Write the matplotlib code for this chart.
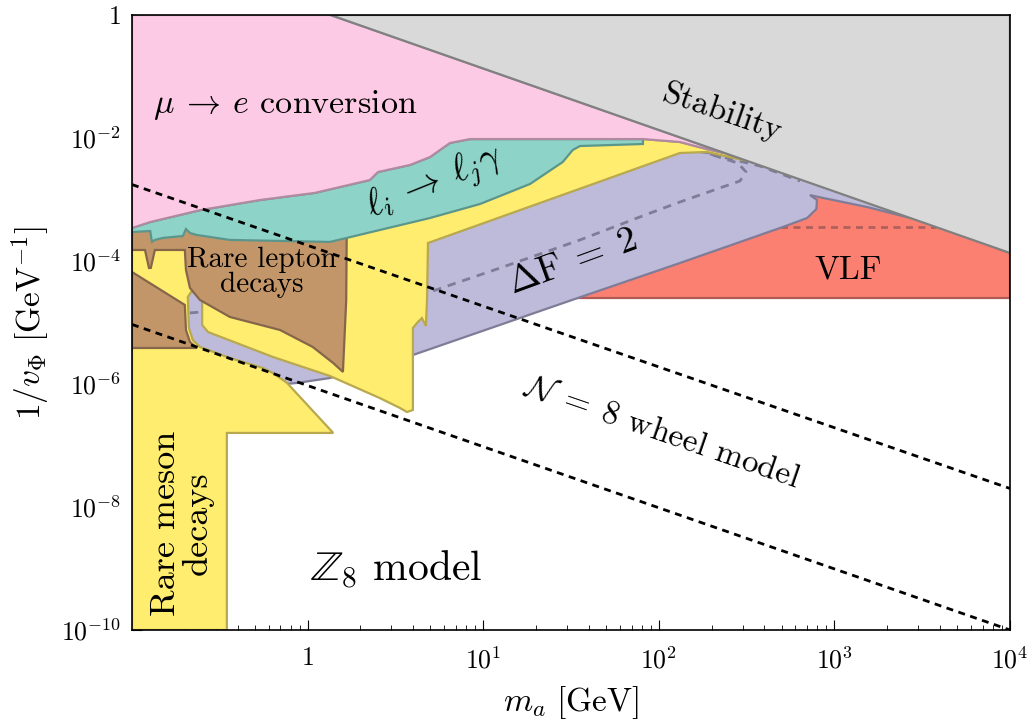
import matplotlib
matplotlib.use("Agg")
import matplotlib.pyplot as plt
from matplotlib.ticker import FixedLocator, FixedFormatter, LogLocator, NullFormatter

plt.rcParams["font.family"] = "serif"
plt.rcParams["font.serif"] = ["cmr10"]
plt.rcParams["mathtext.fontset"] = "cm"
plt.rcParams["axes.unicode_minus"] = False
plt.rcParams["axes.formatter.use_mathtext"] = True

# region outlines: m_a [GeV], 1/v_Phi [GeV^-1]

# stability bound (upper right)
stab_m = [1.35, 1e4, 1e4]
stab_y = [1.0, 1.35e-4, 1.0]

# lower edge of mu -> e conversion (= upper edge of l_i -> l_j gamma)
mue_m = [0.1, 0.127, 0.244, 0.536, 1.10, 2.26, 2.52, 3.83, 4.98, 6.47, 8.41, 81.3, 132, 196, 238]
mue_y = [3.44e-4, 4.3e-4, 6.7e-4, 9.8e-4, 1.28e-3, 2.07e-3, 2.8e-3, 3.64e-3, 4.9e-3, 8.3e-3,
         9.6e-3, 9.6e-3, 8.6e-3, 6.38e-3, 5.67e-3]
mue_top_m = [0.1, 1.35]
mue_top_y = [1.0, 1.0]

# lower edge of l_i -> l_j gamma (right to left)
lfv_m = [81.3, 35.6, 32.4, 28.4, 18.5, 9.6, 4.98, 2.58, 1.67, 1.34, 0.361, 0.234, 0.214,
         0.203, 0.195, 0.150, 0.135, 0.130, 0.127, 0.1]
lfv_y = [7.98e-3, 7.4e-3, 6.4e-3, 4.07e-3, 1.79e-3, 8.45e-4, 5.0e-4, 3.19e-4, 2.37e-4, 2.04e-4,
         2.2e-4, 2.65e-4, 2.85e-4, 3.31e-4, 2.55e-4, 2.37e-4, 2.2e-4, 2.04e-4, 3.07e-4, 2.96e-4]

# rare lepton decays
lep_m = [0.1, 1.67, 1.67, 1.66, 1.59, 1.40, 1.07, 0.697, 0.361, 0.244, 0.214, 0.203, 0.200,
         0.135, 0.128, 0.125, 0.1186, 0.1]
lep_y = [3.7e-4, 3.7e-4, 2.2e-4, 2.32e-5, 1.57e-6, 2.19e-6, 4.0e-6, 7.55e-6, 1.23e-5, 2.32e-5,
         3.64e-5, 7.14e-5, 1.51e-4, 1.51e-4, 7.7e-5, 7.7e-5, 1.51e-4, 1.51e-4]
lep2_m = [0.1, 0.200, 0.203, 0.214, 0.234, 0.1]
lep2_y = [6.62e-5, 1.93e-5, 7.55e-6, 4.82e-6, 3.85e-6, 3.85e-6]

# rare meson decays (lower part, upper edge follows mue_*)
mes_m = [0.1, 0.347, 0.347, 1.40, 0.764, 0.635, 0.557, 0.361, 0.244, 0.222, 0.211, 0.208, 0.217,
         0.244, 0.251, 0.251, 0.271, 0.635, 1.34, 2.58, 3.36, 3.68, 3.98, 3.98, 4.25, 4.48, 4.72,
         4.79, 4.85, 132, 188, 310]
mes_y = [1e-10, 1e-10, 1.6e-7, 1.6e-7, 1.04e-6, 1.51e-6, 1.82e-6, 2.65e-6, 4.0e-6, 5.19e-6,
         8.15e-6, 2.6e-5, 3.13e-5, 3.13e-5, 2.6e-5, 9.1e-6, 7.0e-6, 2.75e-6, 1.35e-6, 5.9e-7,
         4.07e-7, 3.5e-7, 3.78e-7, 8.15e-6, 1.02e-5, 1.18e-5, 8.8e-6, 2.32e-5, 1.96e-4, 5.7e-3,
         5.92e-3, 4.3e-3]

# Delta F = 2
df2_m = [0.203, 4.6, 132, 310, 2690, 1535, 861, 726, 796, 790, 700, 509, 132, 33.3, 3.98, 1.34,
         0.871, 0.652, 0.361, 0.203]
df2_y = [3.37e-5, 2.3e-4, 6.5e-3, 4.8e-3, 5.02e-4, 7.55e-4, 1.06e-3, 1.18e-3, 9.8e-4, 7.0e-4,
         5.0e-4, 3.57e-4, 9.27e-5, 2.41e-5, 2.96e-6, 1.25e-6, 1.04e-6, 9.6e-7, 1.82e-6, 4.3e-6]
df2_dash_m = [0.214, 4.79, 12.5, 35.6, 89.1, 132, 223, 290, 314, 282, 229, 188]
df2_dash_y = [1.43e-5, 3.02e-5, 7.7e-5, 2.2e-4, 6.0e-4, 9.1e-4, 1.54e-3, 2.0e-3, 2.8e-3, 3.92e-3,
              4.73e-3, 5.7e-3]
df2_dash2_m = [196, 377, 637]
df2_dash2_y = [5.5e-3, 3.5e-3, 2.0e-3]

# vector-like fermions
vlf_m = [20, 1e4, 1e4, 1500, 500, 100, 20]
vlf_y = [2.5e-5, 2.5e-5, 1.35e-4, 1.0e-3, 1.5e-3, 2.0e-4, 2.5e-5]
vlf_dash_m = [300, 3780]
vlf_dash_y = [3.57e-4, 3.57e-4]

# model lines
wheel_m = [0.1, 1e4]
wheel_y = [1.75e-3, 2.0e-8]
z8_m = [0.1, 1e4]
z8_y = [9.3e-6, 1.0e-10]

xticks = [1, 10, 100, 1000, 1e4]
xticklabels = ["$1$", "$10^{1}$", "$10^{2}$", "$10^{3}$", "$10^{4}$"]
yticks = [1e-10, 1e-9, 1e-8, 1e-7, 1e-6, 1e-5, 1e-4, 1e-3, 1e-2, 1e-1, 1]
yticklabels = ["$10^{-10}$", "", "$10^{-8}$", "", "$10^{-6}$", "", "$10^{-4}$", "", "$10^{-2}$", "", "$1$"]

fig = plt.figure(figsize=(10.31, 7.2), dpi=100)
ax = fig.add_axes([0.128, 0.125, 0.8516, 0.8542])
ax.set_xscale("log")
ax.set_yscale("log")
ax.set_xlim(0.1, 1e4)
ax.set_ylim(1e-10, 1)

lw = 1.6
# VLF
ax.fill(vlf_m, vlf_y, facecolor="#fb8072", edgecolor="#b05a55", lw=lw, zorder=1)
ax.plot(vlf_dash_m, vlf_dash_y, color="#b0605a", lw=2, ls=(0, (2.5, 2)), zorder=1.5)
# Delta F = 2
ax.fill(df2_m, df2_y, facecolor="#bebada", edgecolor="#7e7c96", lw=lw, zorder=2)
ax.plot(df2_dash_m, df2_dash_y, color="#7e7c96", lw=2, ls=(0, (3, 2.5)), zorder=2.5)
ax.plot(df2_dash2_m, df2_dash2_y, color="#7e7c96", lw=2, ls=(0, (3, 2.5)), zorder=2.5)
# rare meson decays
ax.fill(mes_m + mue_m[::-1], mes_y + mue_y[::-1], facecolor="#ffed6f", edgecolor="#b8a84e",
        lw=lw, zorder=3)
# rare lepton decays
ax.fill(lep_m, lep_y, facecolor="#c29669", edgecolor="#85664a", lw=lw, zorder=4)
ax.fill(lep2_m, lep2_y, facecolor="#c29669", edgecolor="#85664a", lw=lw, zorder=4)
# l_i -> l_j gamma
ax.fill(mue_m[:12] + lfv_m, mue_y[:12] + lfv_y, facecolor="#8dd3c7", edgecolor="#5b968c",
        lw=lw, zorder=5)
# mu -> e conversion
ax.fill(mue_top_m + mue_m[::-1], mue_top_y + mue_y[::-1], facecolor="#fccae4",
        edgecolor="#b08aa0", lw=lw, zorder=6)
# stability
ax.fill(stab_m, stab_y, facecolor="#d9d9d9", edgecolor="#808080", lw=lw, zorder=7)

# model lines
ax.plot(wheel_m, wheel_y, color="black", lw=2, ls=(0, (2.5, 2)), zorder=8)
ax.plot(z8_m, z8_y, color="black", lw=2, ls=(0, (2.5, 2)), zorder=8)

ax.text(0.132, 0.0344, r"$\mu\:\to\:e$ conversion", fontsize=24.5, ha="left", va="center", zorder=10)
ax.text(229, 0.0265, "Stability", fontsize=24, ha="center", va="center", rotation=-19, zorder=10)
ax.text(5.3, 1.8e-3, r"$\ell_i\:\to\:\ell_j\gamma$", fontsize=27, ha="center", va="center",
        rotation=22, zorder=10)
ax.text(0.55, 6.6e-5, "Rare lepton\ndecays", fontsize=21, ha="center", va="center",
        linespacing=0.95, zorder=10)
ax.text(32.4, 9.6e-5, r"$\Delta\mathrm{F}\;=\;2$", fontsize=27, ha="center", va="center",
        rotation=20, zorder=10)
ax.text(1194, 7.1e-5, "VLF", fontsize=24, ha="center", va="center", zorder=10)
ax.text(104, 1.66e-7, r"$\mathcal{N}\;=\;8$ wheel model", fontsize=24, ha="center", va="center",
        rotation=-19, zorder=10)
ax.text(0.193, 5.5e-9, "Rare meson\ndecays", fontsize=26, ha="center", va="center",
        rotation=90, linespacing=0.95, zorder=10)
ax.text(1.03, 9.5e-10, r"$\mathbb{Z}_8$ model", fontsize=30, ha="left", va="center", zorder=10)

ax.xaxis.set_major_locator(FixedLocator(xticks))
ax.xaxis.set_major_formatter(FixedFormatter(xticklabels))
ax.xaxis.set_minor_locator(LogLocator(base=10, subs=range(2, 10), numticks=20))
ax.xaxis.set_minor_formatter(NullFormatter())
ax.yaxis.set_major_locator(FixedLocator(yticks))
ax.yaxis.set_major_formatter(FixedFormatter(yticklabels))
ax.yaxis.set_minor_locator(LogLocator(base=10, subs=range(2, 10), numticks=20))
ax.yaxis.set_minor_formatter(NullFormatter())
ax.tick_params(which="both", direction="in", top=False, right=False, labelsize=18.5)
ax.tick_params(axis="x", which="major", pad=12)
ax.tick_params(axis="y", which="major", pad=8)
ax.tick_params(which="major", length=7, width=0.8)
ax.tick_params(which="minor", length=3.5, width=0.6)
for s in ax.spines.values():
    s.set_zorder(20)
    s.set_linewidth(1.2)

ax.set_xlabel(r"$m_a\ [\mathrm{GeV}]$", fontsize=24, labelpad=8)
ax.set_ylabel(r"$1/v_\Phi\ [\mathrm{GeV}^{-1}]$", fontsize=24, labelpad=6)

fig.savefig("out.png", dpi=100)
